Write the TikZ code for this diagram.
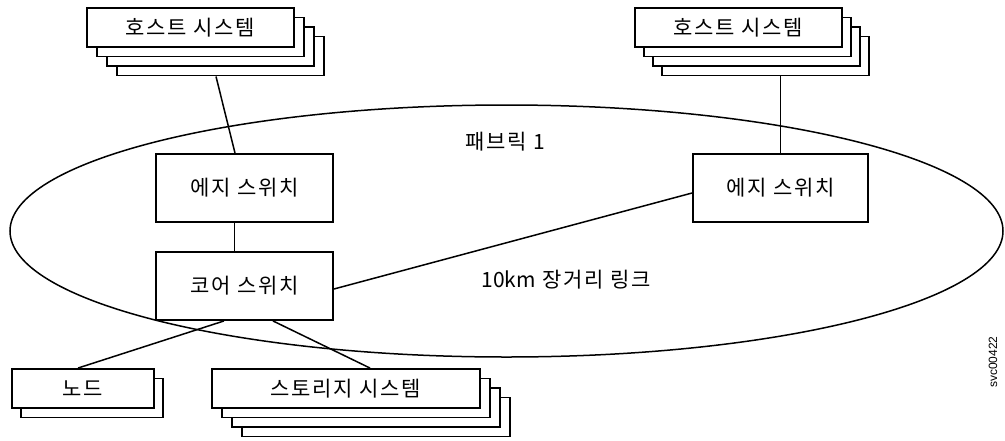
\documentclass[tikz,border=0pt]{standalone}
\usepackage{fontspec}
\setmainfont{Liberation Sans}
\newfontfamily\kr{Noto Sans CJK KR}[LetterSpace=8]
\newfontfamily\krplain{Noto Sans CJK KR}
\begin{document}
\begin{tikzpicture}[x=1pt,y=-1pt,
  box/.style={draw, line width=1.9pt, fill=white, inner sep=0pt, font=\kr\fontsize{21}{24}\selectfont},
  bigbox/.style={box, minimum width=207pt, minimum height=39pt},
  swbox/.style={box, minimum width=177pt, minimum height=68pt},
  nodebox/.style={box, minimum width=142pt, minimum height=39pt},
  stbox/.style={box, minimum width=268pt, minimum height=39pt},
  link/.style={line width=1.5pt},
  lbl/.style={inner sep=0pt, font=\kr\fontsize{21}{24}\selectfont}]
\useasboundingbox (0,0) rectangle (1005,440);

% fabric ellipse
\draw[line width=1.5pt] (506.5,231) ellipse [x radius=496.5pt, y radius=126pt];
\node[lbl] (fab) at (505,142) {패브릭 1};
\node[lbl] (long) at (566,280) {{\krplain 10km} 장거리 링크};

% left host stack
\node[bigbox] (hostL3) at (220.5,56) {};
\node[bigbox] (hostL2) at (210.5,46.5) {};
\node[bigbox] (hostL1) at (200.5,37) {};
\node[bigbox] (hostL) at (190.5,27.5) {호스트 시스템};

% right host stack
\node[bigbox] (hostR3) at (765.5,56) {};
\node[bigbox] (hostR2) at (756.5,46.5) {};
\node[bigbox] (hostR1) at (747.5,37) {};
\node[bigbox] (hostR) at (738.5,27.5) {호스트 시스템};

% switches
\node[swbox] (edgeL) at (244.5,188) {에지 스위치};
\node[swbox] (coreL) at (244.5,286) {코어 스위치};
\node[swbox, minimum width=175pt] (edgeR) at (780.5,188) {에지 스위치};

% node
\node[nodebox] (nodeB) at (92,398) {};
\node[nodebox] (nodeA) at (83,388.5) {노드};

% storage stack
\node[stbox] (st3) at (376,417) {};
\node[stbox] (st2) at (366,407.5) {};
\node[stbox] (st1) at (356,398) {};
\node[stbox] (st) at (346,388.5) {스토리지 시스템};

% connectors
\draw[link] ([xshift=-4.5pt]hostL3.south) -- ([xshift=-9.5pt]edgeL.north);
\draw[link] (edgeR.north |- hostR3.south) -- (edgeR.north);
\draw[link] ([xshift=-10pt]edgeL.south) -- ([xshift=-10pt]coreL.north);
\draw[link] ([yshift=-3pt]coreL.east) -- ([yshift=-5pt]edgeR.west);
\draw[link] ([xshift=-20.5pt]coreL.south) -- ([xshift=-5pt]nodeA.north);
\draw[link] ([xshift=28.5pt]coreL.south) -- ([xshift=24pt]st.north);

\node[rotate=90, inner sep=0pt, font=\fontsize{12}{14}\selectfont] (id) at (993,362) {svc00422};
\end{tikzpicture}
\end{document}
